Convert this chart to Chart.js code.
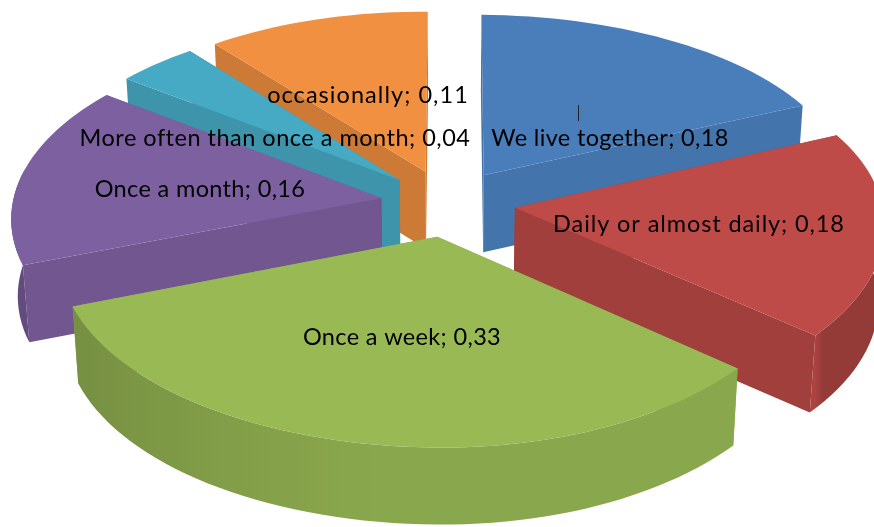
<!DOCTYPE html>
<html>
<head>
<meta charset="utf-8">
<title>Contact frequency</title>
<style>
    html, body { margin: 0; padding: 0; background: #fff; }
    canvas { display: block; }
</style>
<script src="https://cdn.jsdelivr.net/npm/chart.js@4/dist/chart.umd.min.js"></script>
</head>
<body>
<canvas id="pieChart" width="874" height="527"></canvas>
<script>
// Chart data
const categories = ['We live together', 'Daily or almost daily', 'Once a week', 'Once a month', 'More often than once a month', 'occasionally'];
const shares = [0.18, 0.18, 0.33, 0.16, 0.04, 0.11];
const valueLabels = ['0,18', '0,18', '0,33', '0,16', '0,04', '0,11'];

// Styling per slice
const topColors = ['#4a7ebb', '#be4b48', '#98b954', '#7d60a0', '#46aac5', '#f09040'];
const wallShades = [0.92, 0.84, 0.9, 0.9, 0.87, 0.85];
const labelCentres = [[610, 138], [699, 224], [402, 337], [200, 189], [275, 138], [368, 95]];
const labelSpacing = [0.35, 0.9, 0.35, 0.35, 0.5, 1.05];

// Fake 3D view of the pie
const view = { x0: 448, y0: 203, kx: 368, ky: 184, perspLeft: 0.11, perspRight: 0.07, perspBack: 0.11, perspFront: 0.095, shear: 0.008, depth: 77, bottomScale: 0.985 };
const explode = 44;

function shade(hex, f) {
    const n = parseInt(hex.slice(1), 16);
    const r = Math.round((n >> 16 & 255) * f);
    const g = Math.round((n >> 8 & 255) * f);
    const b = Math.round((n & 255) * f);
    return `rgb(${r},${g},${b})`;
}

/**
 * Project a point of the pie plane (radius 1 units) to the screen
 */
function project(u, v, bottom) {
    const px = u > 0 ? view.perspRight : view.perspLeft;
    const py = v > 0 ? view.perspFront : view.perspBack;
    let sx = view.kx * u / (1 - px * v);
    let sy = view.y0 + view.ky * v / (1 - py * v) + view.shear * sx;
    if (bottom) {
        sx *= view.bottomScale;
        sy += view.depth;
    }
    return [view.x0 + sx, sy];
}

function fillPoly(ctx, pts, color) {
    ctx.beginPath();
    pts.forEach((p, i) => i ? ctx.lineTo(p[0], p[1]) : ctx.moveTo(p[0], p[1]));
    ctx.closePath();
    ctx.fillStyle = color;
    ctx.fill();
}

function sideFactor(deg) {
    if (deg < 129) return 0.78;
    if (deg > 190) return Math.max(0.78, 0.9 - (deg - 190) / 60 * 0.14);
    return 0.9;
}

/**
 * Draw one arc element as an exploded 3D slice, using the angles Chart.js computed
 */
function drawSlice(ctx, arc, color, wallShade) {
    const start = arc.startAngle + Math.PI / 2;
    const end = arc.endAngle + Math.PI / 2;
    const mid = (start + end) / 2;
    const off = arc.options.offset / arc.outerRadius;
    const ax = off * Math.sin(mid);
    const ay = -off * Math.cos(mid);

    const rim = [];
    const steps = Math.max(4, Math.round((end - start) / (Math.PI / 90)));
    for (let i = 0; i <= steps; i++) {
        const t = start + (end - start) * i / steps;
        rim.push({ t: t, u: ax + Math.sin(t), v: ay - Math.cos(t) });
    }

    // radial walls, the top face hides whatever faces away
    const apexTop = project(ax, ay, false);
    const apexBottom = project(ax, ay, true);
    [rim[0], rim[steps]].forEach(p => {
        fillPoly(ctx, [apexTop, project(p.u, p.v, false), project(p.u, p.v, true), apexBottom], shade(color, wallShade));
    });

    // outer wall, only the part turned to the viewer
    const front = rim.filter(p => Math.cos(p.t) < 0.15);
    if (front.length > 1) {
        const topEdge = front.map(p => project(p.u, p.v, false));
        const bottomEdge = front.map(p => project(p.u, p.v, true)).reverse();
        const xs = topEdge.map(p => p[0]);
        const left = Math.min(...xs);
        const right = Math.max(...xs);
        const gradient = ctx.createLinearGradient(left, 0, right, 0);
        front.forEach((p, i) => {
            gradient.addColorStop((xs[i] - left) / (right - left), shade(color, sideFactor(p.t * 180 / Math.PI)));
        });
        fillPoly(ctx, topEdge.concat(bottomEdge), gradient);
    }

    // top face
    fillPoly(ctx, [apexTop].concat(rim.map(p => project(p.u, p.v, false))), color);
}

const pie3dPlugin = {
    id: 'pie3d',
    beforeDatasetDraw() {
        return false; // slices are painted below instead of the flat pie
    },
    afterDatasetsDraw(chart) {
        const ctx = chart.ctx;
        const arcs = chart.getDatasetMeta(0).data;

        // paint back slices first
        const order = arcs.map((arc, i) => i).sort((a, b) => {
            const depth = i => -Math.cos((arcs[i].startAngle + arcs[i].endAngle) / 2 + Math.PI / 2);
            return depth(a) - depth(b);
        });
        order.forEach(i => drawSlice(ctx, arcs[i], topColors[i], wallShades[i]));

        // small leader line above the first label
        ctx.strokeStyle = '#222';
        ctx.lineWidth = 1;
        ctx.beginPath();
        ctx.moveTo(578.5, 105);
        ctx.lineTo(578.5, 121);
        ctx.stroke();

        // data labels
        ctx.fillStyle = '#000';
        ctx.font = '23.5px Lato, Carlito, sans-serif';
        ctx.textAlign = 'center';
        ctx.textBaseline = 'middle';
        categories.forEach((name, i) => {
            ctx.letterSpacing = labelSpacing[i] + 'px';
            ctx.fillText(`${name}; ${valueLabels[i]}`, labelCentres[i][0], labelCentres[i][1]);
        });
    }
};

document.addEventListener('DOMContentLoaded', function() {
    new Chart(document.getElementById('pieChart'), {
        type: 'pie',
        data: {
            labels: categories,
            datasets: [{
                data: shares,
                backgroundColor: topColors,
                offset: explode,
                hoverOffset: 0
            }]
        },
        options: {
            responsive: false,
            animation: false,
            plugins: {
                legend: { display: false },
                tooltip: { enabled: false }
            }
        },
        plugins: [pie3dPlugin]
    });
});
</script>
</body>
</html>
